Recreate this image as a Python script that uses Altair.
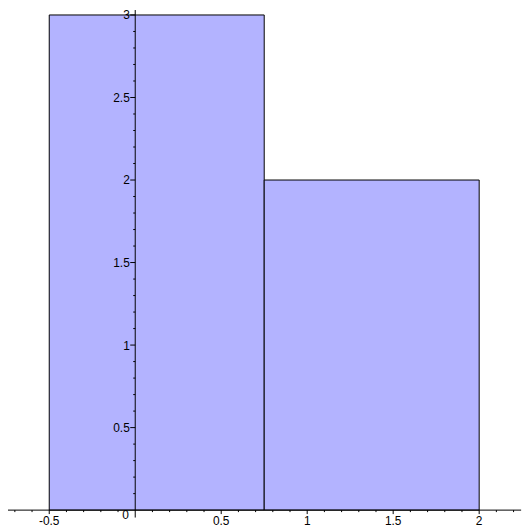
import altair as alt
import pandas as pd

# Histogram bars
bar_left = [-0.5, 0.75]
bar_right = [0.75, 2.0]
bar_height = [3, 2]

# Axis ticks and labels
x_major = [-0.5, 0.5, 1, 1.5, 2]
x_major_labels = ["-0.5", "0.5", "1", "1.5", "2"]
x_minor = [-0.7, -0.6, -0.4, -0.3, -0.2, -0.1, 0.1, 0.2, 0.3, 0.4, 0.6, 0.7,
           0.8, 0.9, 1.1, 1.2, 1.3, 1.4, 1.6, 1.7, 1.8, 1.9, 2.1, 2.2]
y_major = [0.5, 1, 1.5, 2, 2.5, 3]
y_major_labels = ["0.5", "1", "1.5", "2", "2.5", "3"]
y_minor = [0.1, 0.2, 0.3, 0.4, 0.6, 0.7, 0.8, 0.9, 1.1, 1.2, 1.3, 1.4,
           1.6, 1.7, 1.8, 1.9, 2.1, 2.2, 2.3, 2.4, 2.6, 2.7, 2.8, 2.9]
x_axis_range = [-0.745, 2.244]
y_axis_range = [-0.045, 3.03]

XD = [-0.7225, 2.2375]
YD = [-0.0601, 3.0]
xs = alt.Scale(domain=XD, nice=False, zero=False)
ys = alt.Scale(domain=YD, nice=False, zero=False)

# tick lengths in data units
XT_MAJ, XT_MIN = 0.024, 0.012   # vertical ticks on x axis (y units)
YT_MAJ, YT_MIN = 0.029, 0.0116  # horizontal ticks on y axis (x units)

bars_df = pd.DataFrame({"x": bar_left, "x2": bar_right, "y": [0] * 2, "y2": bar_height})
bars = alt.Chart(bars_df).mark_rect(fill="#B3B3FF", stroke="black", strokeWidth=1).encode(
    x=alt.X("x:Q", scale=xs, axis=None),
    x2="x2:Q",
    y=alt.Y("y:Q", scale=ys, axis=None),
    y2="y2:Q",
)

xaxis_df = pd.DataFrame({"x": [x_axis_range[0]], "x2": [x_axis_range[1]], "y": [0]})
xaxis = alt.Chart(xaxis_df).mark_rule(color="black", strokeWidth=1).encode(
    x=alt.X("x:Q", scale=xs, axis=None), x2="x2:Q", y=alt.Y("y:Q", scale=ys, axis=None)
)
yaxis_df = pd.DataFrame({"y": [y_axis_range[0]], "y2": [y_axis_range[1]], "x": [0]})
yaxis = alt.Chart(yaxis_df).mark_rule(color="black", strokeWidth=1).encode(
    y=alt.Y("y:Q", scale=ys, axis=None), y2="y2:Q", x=alt.X("x:Q", scale=xs, axis=None)
)

xt_df = pd.DataFrame({
    "x": x_major + x_minor,
    "y": [0] * (len(x_major) + len(x_minor)),
    "y2": [-XT_MAJ] * len(x_major) + [-XT_MIN] * len(x_minor),
})
xticks = alt.Chart(xt_df).mark_rule(color="black", strokeWidth=1).encode(
    x=alt.X("x:Q", scale=xs, axis=None), y=alt.Y("y:Q", scale=ys, axis=None), y2="y2:Q"
)
yt_df = pd.DataFrame({
    "y": y_major + y_minor,
    "x": [0] * (len(y_major) + len(y_minor)),
    "x2": [-YT_MAJ] * len(y_major) + [-YT_MIN] * len(y_minor),
})
yticks = alt.Chart(yt_df).mark_rule(color="black", strokeWidth=1).encode(
    y=alt.Y("y:Q", scale=ys, axis=None), x=alt.X("x:Q", scale=xs, axis=None), x2="x2:Q"
)

font = "Liberation Sans"
xl_df = pd.DataFrame({"x": x_major, "y": [0] * len(x_major), "t": x_major_labels})
xlabels = alt.Chart(xl_df).mark_text(
    font=font, fontSize=12, color="black", align="center", baseline="alphabetic", dy=15
).encode(x=alt.X("x:Q", scale=xs, axis=None), y=alt.Y("y:Q", scale=ys, axis=None), text="t:N")

yl_df = pd.DataFrame({"x": [0] * len(y_major), "y": y_major, "t": y_major_labels})
ylabels = alt.Chart(yl_df).mark_text(
    font=font, fontSize=12, color="black", align="right", baseline="alphabetic", dx=-5.5, dy=4.5
).encode(x=alt.X("x:Q", scale=xs, axis=None), y=alt.Y("y:Q", scale=ys, axis=None), text="t:N")

origin_df = pd.DataFrame({"x": [0], "y": [0], "t": ["0"]})
origin = alt.Chart(origin_df).mark_text(
    font=font, fontSize=12, color="black", align="right", baseline="alphabetic", dx=-6.5, dy=8.7
).encode(x=alt.X("x:Q", scale=xs, axis=None), y=alt.Y("y:Q", scale=ys, axis=None), text="t:N")

chart = alt.layer(bars, xaxis, yaxis, xticks, yticks, xlabels, ylabels, origin).properties(
    width=513,
    height=509,
    padding={"left": 3, "top": 5, "right": 2, "bottom": 6},
    autosize="none",
    background="white",
).configure_view(stroke=None)

chart.save("out.html", embed_options={"renderer": "svg", "actions": False})
